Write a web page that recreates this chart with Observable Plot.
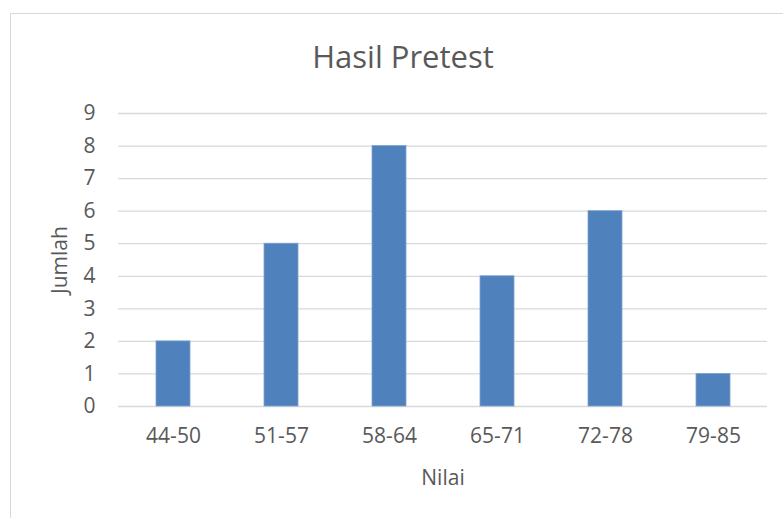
<!DOCTYPE html>
<html>
<head>
<meta charset="utf-8">
<script src="https://cdn.jsdelivr.net/npm/d3@7"></script>
<script src="https://cdn.jsdelivr.net/npm/@observablehq/plot@0.6"></script>
<style>
  html, body { margin: 0; padding: 0; background: #fff; overflow: hidden; }
  #wrap { position: relative; width: 783px; height: 518px; font-family: "Open Sans", sans-serif; }
  #frame { position: absolute; left: 10px; top: 13px; width: 820px; height: 540px; border: 1.5px solid #d9d9d9; box-sizing: border-box; }
  #title { position: absolute; left: 0; width: 806px; top: 41px; text-align: center; font-size: 31px; color: #595959; line-height: 1; }
  #chart { position: absolute; left: 0; top: 0; }
</style>
</head>
<body>
<div id="wrap">
  <div id="frame"></div>
  <div id="title">Hasil Pretest</div>
  <div id="chart"></div>
</div>
<script>
const categories = ["44-50", "51-57", "58-64", "65-71", "72-78", "79-85"];
const counts = [2, 5, 8, 4, 6, 1];
const yTicks = [0, 1, 2, 3, 4, 5, 6, 7, 8, 9];

const data = categories.map((c, i) => ({nilai: c, jumlah: counts[i]}));

const plot = Plot.plot({
  width: 783,
  height: 518,
  marginLeft: 118,
  marginRight: 16,
  marginTop: 113,
  marginBottom: 112,
  style: {fontFamily: "Open Sans, sans-serif", fontSize: "21px", color: "#595959", background: "transparent"},
  x: {domain: categories, paddingInner: 0.686, paddingOuter: 0.343},
  y: {domain: [0, 9]},
  marks: [
    Plot.gridY(yTicks, {stroke: "#d9d9d9", strokeOpacity: 1, strokeWidth: 1.3}),
    Plot.barY(data, {x: "nilai", y: "jumlah", fill: "#4F81BD", stroke: "#7fa3d0", strokeWidth: 0.8}),
    Plot.axisY(yTicks, {tickSize: 0, tickPadding: 23, label: "Jumlah", labelArrow: "none", labelAnchor: "center", labelOffset: 66, fill: "#595959"}),
    Plot.axisX({tickSize: 0, tickPadding: 22, label: "Nilai", labelArrow: "none", labelAnchor: "center", labelOffset: 78, fill: "#595959"})
  ]
});
document.getElementById("chart").appendChild(plot);
</script>
</body>
</html>
